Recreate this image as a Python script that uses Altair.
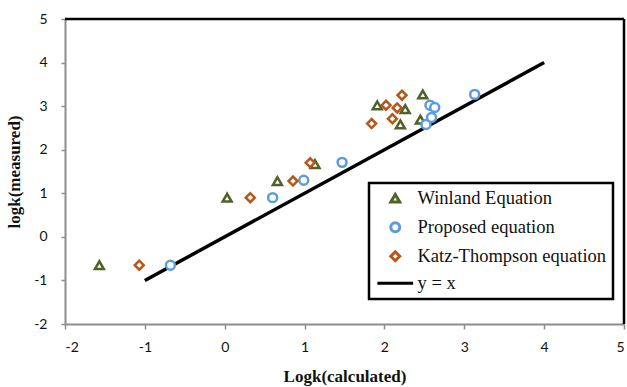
import altair as alt
import pandas as pd

series_names = ["Winland Equation", "Proposed equation", "Katz-Thompson equation", "y = x"]

winland_x = [-1.57, 0.03, 0.66, 1.13, 1.91, 2.20, 2.26, 2.45, 2.48]
winland_y = [-0.65, 0.90, 1.28, 1.67, 3.02, 2.58, 2.93, 2.69, 3.27]
proposed_x = [-0.68, 0.60, 0.99, 1.47, 2.52, 2.57, 2.59, 2.63, 3.13]
proposed_y = [-0.65, 0.90, 1.30, 1.71, 2.58, 3.02, 2.74, 2.97, 3.27]
katz_x = [-1.07, 0.32, 0.855, 1.07, 1.84, 2.02, 2.10, 2.16, 2.22]
katz_y = [-0.65, 0.90, 1.28, 1.70, 2.60, 3.02, 2.71, 2.96, 3.25]
line_x = [-1, 4]
line_y = [-1, 4]
tick_values = [-2, -1, 0, 1, 2, 3, 4, 5]

rows = []
for name, xs, ys in [(series_names[0], winland_x, winland_y),
                     (series_names[1], proposed_x, proposed_y),
                     (series_names[2], katz_x, katz_y)]:
    for a, b in zip(xs, ys):
        rows.append({"x": a, "y": b, "series": name})
pts = pd.DataFrame(rows)
line_df = pd.DataFrame({"x": line_x, "y": line_y, "series": [series_names[3]] * len(line_x)})

color_scale = alt.Scale(domain=series_names, range=["#4F6228", "#5B9BE0", "#B8561A", "#000000"])
shape_scale = alt.Scale(domain=series_names,
                        range=["triangle-up", "circle", "diamond", "M-4,0H4"])

legend = alt.Legend(
    title=None, orient="none", legendX=304, legendY=164,
    strokeColor="black", padding=6,
    labelFont="Liberation Serif", labelFontSize=18.5, labelColor="#111",
    symbolOffset=11, labelOffset=13, rowPadding=7, symbolStrokeWidth=3,
    symbolSize=80, symbolFillColor="white", fillColor="white", labelLimit=300,
)

xs = alt.Scale(domain=[-2, 5], nice=False, zero=False)
ys = alt.Scale(domain=[-2, 5], nice=False, zero=False)

x_axis = alt.Axis(values=tick_values, grid=False, domainColor="#8c8c8c", domainWidth=2,
                  tickColor="#8c8c8c", tickWidth=1.5, tickSize=5, labelFont="Lato",
                  labelFontSize=14, labelColor="#111", labelPadding=11,
                  labelExpr="datum.value + ''",
                  title="Logk(calculated)", titleFont="Liberation Serif", titleFontWeight="bold",
                  titleFontSize=17, titleColor="#111", titlePadding=14)
y_axis = alt.Axis(values=tick_values, grid=False, domainColor="#8c8c8c", domainWidth=2,
                  tickColor="#8c8c8c", tickWidth=1.5, tickSize=4, labelFont="Lato",
                  labelFontSize=14, labelColor="#111", labelPadding=14,
                  labelExpr="datum.value + ''",
                  title="logk(measured)", titleFont="Liberation Serif", titleFontWeight="bold",
                  titleFontSize=17, titleColor="#111", titlePadding=10)

line = alt.Chart(line_df).mark_line(strokeWidth=3.5).encode(
    x=alt.X("x:Q", scale=xs, axis=x_axis),
    y=alt.Y("y:Q", scale=ys, axis=y_axis),
    color=alt.Color("series:N", scale=color_scale, legend=legend),
)

points = alt.Chart(pts).mark_point(filled=False, fill="white", fillOpacity=1, strokeWidth=2.5,
                                   opacity=1, size=80).encode(
    x=alt.X("x:Q", scale=xs, axis=x_axis),
    y=alt.Y("y:Q", scale=ys, axis=y_axis),
    color=alt.Color("series:N", scale=color_scale, legend=legend),
    shape=alt.Shape("series:N", scale=shape_scale, legend=legend),
)

top_border = alt.Chart(pd.DataFrame({"a": [0]})).mark_rule(color="black", strokeWidth=2.5).encode(
    x=alt.datum(-2, scale=xs), x2=alt.datum(5), y=alt.datum(5, scale=ys))
right_border = alt.Chart(pd.DataFrame({"a": [0]})).mark_rule(color="black", strokeWidth=2.5).encode(
    y=alt.datum(-2, scale=ys), y2=alt.datum(5), x=alt.datum(5, scale=xs))

chart = alt.layer(top_border, right_border, line, points).properties(
    width=559, height=305,
    autosize=alt.AutoSizeParams(type="none"),
    padding={"left": 65, "top": 19, "right": 3, "bottom": 63},
    background="white",
).configure_view(stroke=None).configure_legend(strokeWidth=2.5)

chart.save("out.html", embed_options={"renderer": "svg", "actions": False})
